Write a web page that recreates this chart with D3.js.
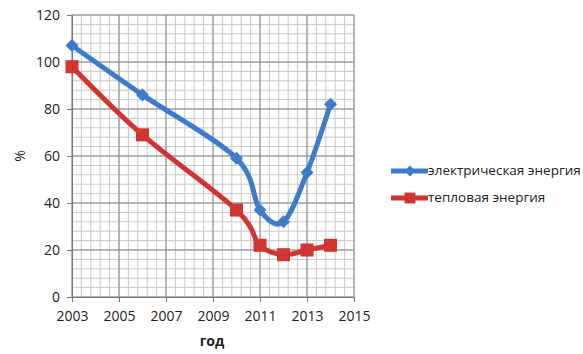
<!DOCTYPE html>
<html>
<head>
<meta charset="utf-8">
<script src="https://cdn.jsdelivr.net/npm/d3@7"></script>
<style>
  body { margin: 0; background: #fff; }
  svg { display: block; font-family: 'Open Sans', 'DejaVu Sans', sans-serif; }
</style>
</head>
<body>
<svg width="583" height="354"></svg>
<script>
// values
const years = [2003, 2006, 2010, 2011, 2012, 2013, 2014];
const electric = [107, 86, 59, 37, 32, 53, 82];
const heat = [98, 69, 37, 22, 18, 20, 22];
const seriesNames = ['электрическая энергия', 'тепловая энергия'];
const xTicks = [2003, 2005, 2007, 2009, 2011, 2013, 2015];
const yTicks = [0, 20, 40, 60, 80, 100, 120];

const blue = '#3d7bcb';
const red = '#d2352f';

const svg = d3.select('svg');
const x = d3.scaleLinear().domain([2003, 2015]).range([72, 354]);
const y = d3.scaleLinear().domain([0, 120]).range([297, 15]);

// minor grid
const grid = svg.append('g').attr('class', 'grid');
grid.selectAll('.vminor')
  .data(d3.range(2003, 2015.001, 0.4))
  .enter().append('line')
  .attr('x1', d => x(d)).attr('x2', d => x(d))
  .attr('y1', y(120)).attr('y2', y(0))
  .attr('stroke', '#c8c8c8').attr('stroke-width', 1);
grid.selectAll('.hminor')
  .data(d3.range(0, 120.001, 4))
  .enter().append('line')
  .attr('x1', x(2003)).attr('x2', x(2015))
  .attr('y1', d => y(d)).attr('y2', d => y(d))
  .attr('stroke', '#c8c8c8').attr('stroke-width', 1);

// major grid
grid.selectAll('.vmajor')
  .data(xTicks)
  .enter().append('line')
  .attr('x1', d => x(d)).attr('x2', d => x(d))
  .attr('y1', y(120)).attr('y2', y(0))
  .attr('stroke', '#888').attr('stroke-width', 1);
grid.selectAll('.hmajor')
  .data(yTicks)
  .enter().append('line')
  .attr('x1', x(2003)).attr('x2', x(2015))
  .attr('y1', d => y(d)).attr('y2', d => y(d))
  .attr('stroke', '#888').attr('stroke-width', 1);

// axes
const xAxis = d3.axisBottom(x).tickValues(xTicks).tickFormat(d3.format('d')).tickSize(5).tickPadding(9);
const yAxis = d3.axisLeft(y).tickValues(yTicks).tickSize(5).tickPadding(7);

const gx = svg.append('g').attr('transform', `translate(0,${y(0)})`).call(xAxis);
const gy = svg.append('g').attr('transform', `translate(${x(2003)},0)`).call(yAxis);
[gx, gy].forEach((g) => {
  g.select('.domain').attr('stroke', '#777');
  g.selectAll('.tick line').attr('stroke', '#777');
  g.selectAll('.tick text').attr('font-size', 14).attr('fill', '#222')
    .attr('font-family', "'Open Sans', sans-serif");
});

svg.append('text')
  .attr('transform', 'translate(21,156) rotate(-90)')
  .attr('text-anchor', 'middle')
  .attr('dominant-baseline', 'middle')
  .attr('font-size', 14)
  .attr('fill', '#222')
  .text('%');

svg.append('text')
  .attr('x', 212).attr('y', 346)
  .attr('text-anchor', 'middle')
  .attr('font-size', 14)
  .attr('font-weight', 'bold')
  .attr('fill', '#222')
  .text('год');

// lines
const line = d3.line()
  .x(d => x(d[0]))
  .y(d => y(d[1]))
  .curve(d3.curveCardinal.tension(0));

const series = [
  { name: seriesNames[0], values: electric, color: blue, rot: 45, size: 85 },
  { name: seriesNames[1], values: heat, color: red, rot: 0, size: 170 },
];

series.forEach((s) => {
  const pts = years.map((yr, i) => [yr, s.values[i]]);
  svg.append('path')
    .datum(pts)
    .attr('d', line)
    .attr('fill', 'none')
    .attr('stroke', s.color)
    .attr('stroke-width', 5)
    .attr('stroke-linejoin', 'round');
  svg.selectAll(null)
    .data(pts)
    .enter().append('path')
    .attr('transform', d => `translate(${x(d[0])},${y(d[1])}) rotate(${s.rot})`)
    .attr('d', d3.symbol().type(d3.symbolSquare).size(s.size)())
    .attr('fill', s.color);
});

// legend
const legend = svg.append('g').attr('class', 'legend');
series.forEach((s, i) => {
  const ly = 171 + i * 27;
  legend.append('line')
    .attr('x1', 391).attr('x2', 428)
    .attr('y1', ly).attr('y2', ly)
    .attr('stroke', s.color).attr('stroke-width', 5);
  legend.append('path')
    .attr('transform', `translate(410,${ly}) rotate(${s.rot})`)
    .attr('d', d3.symbol().type(d3.symbolSquare).size(s.size * 0.7)())
    .attr('fill', s.color);
  legend.append('text')
    .attr('x', 428).attr('y', ly)
    .attr('dominant-baseline', 'middle')
    .attr('font-size', 13.5)
    .attr('fill', '#222')
    .text(s.name);
});
</script>
</body>
</html>
